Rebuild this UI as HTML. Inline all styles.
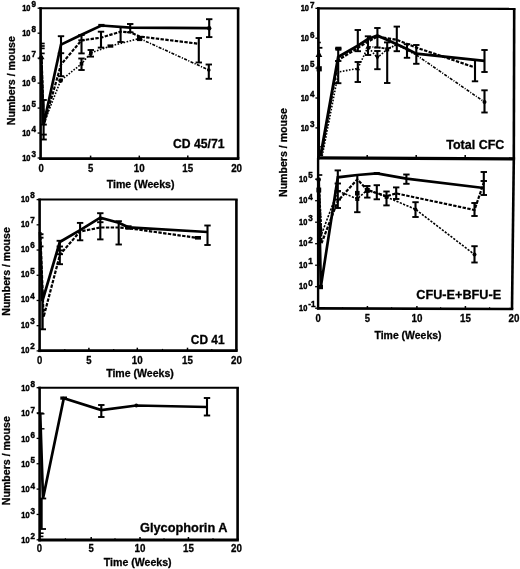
<!DOCTYPE html>
<html lang="en"><head><meta charset="utf-8"><title>Figure</title>
<style>
html,body{margin:0;padding:0;background:#fff;}
body{width:520px;height:569px;overflow:hidden;}
svg{display:block;}
svg text{font-family:"Liberation Sans", Arial, Helvetica, sans-serif;fill:#000;stroke:#000;stroke-width:0.3px;}
</style></head><body>
<svg width="520" height="569" viewBox="0 0 520 569" stroke="#000" stroke-linecap="butt" stroke-linejoin="miter">
<defs><filter id="soft" x="0" y="0" width="520" height="569" filterUnits="userSpaceOnUse"><feGaussianBlur stdDeviation="0.45"/></filter></defs>
<rect x="0" y="0" width="520" height="569" fill="#fff" stroke="none"/>
<g filter="url(#soft)">
<line x1="40.60" y1="7.20" x2="40.60" y2="160.00" stroke-width="2.6" />
<line x1="39.30" y1="158.60" x2="239.40" y2="158.60" stroke-width="2.8" />
<line x1="39.30" y1="8.20" x2="239.40" y2="8.20" stroke-width="2.0" />
<line x1="238.10" y1="8.20" x2="238.10" y2="158.60" stroke-width="2.6" />
<line x1="37.60" y1="8.20" x2="40.60" y2="8.20" stroke-width="1.3" />
<text x="30.50" y="10.70" font-size="8.6" text-anchor="end" font-weight="bold" textLength="8.30" lengthAdjust="spacingAndGlyphs" style="stroke-width:0.45px">10</text>
<text x="31.40" y="7.00" font-size="9.0" text-anchor="start" font-weight="bold" textLength="4.50" lengthAdjust="spacingAndGlyphs" style="stroke-width:0.45px">9</text>
<line x1="37.60" y1="33.17" x2="40.60" y2="33.17" stroke-width="1.3" />
<text x="30.50" y="35.67" font-size="8.6" text-anchor="end" font-weight="bold" textLength="8.30" lengthAdjust="spacingAndGlyphs" style="stroke-width:0.45px">10</text>
<text x="31.40" y="31.97" font-size="9.0" text-anchor="start" font-weight="bold" textLength="4.50" lengthAdjust="spacingAndGlyphs" style="stroke-width:0.45px">8</text>
<line x1="37.60" y1="58.13" x2="40.60" y2="58.13" stroke-width="1.3" />
<text x="30.50" y="60.63" font-size="8.6" text-anchor="end" font-weight="bold" textLength="8.30" lengthAdjust="spacingAndGlyphs" style="stroke-width:0.45px">10</text>
<text x="31.40" y="56.93" font-size="9.0" text-anchor="start" font-weight="bold" textLength="4.50" lengthAdjust="spacingAndGlyphs" style="stroke-width:0.45px">7</text>
<line x1="37.60" y1="83.10" x2="40.60" y2="83.10" stroke-width="1.3" />
<text x="30.50" y="85.60" font-size="8.6" text-anchor="end" font-weight="bold" textLength="8.30" lengthAdjust="spacingAndGlyphs" style="stroke-width:0.45px">10</text>
<text x="31.40" y="81.90" font-size="9.0" text-anchor="start" font-weight="bold" textLength="4.50" lengthAdjust="spacingAndGlyphs" style="stroke-width:0.45px">6</text>
<line x1="37.60" y1="108.07" x2="40.60" y2="108.07" stroke-width="1.3" />
<text x="30.50" y="110.57" font-size="8.6" text-anchor="end" font-weight="bold" textLength="8.30" lengthAdjust="spacingAndGlyphs" style="stroke-width:0.45px">10</text>
<text x="31.40" y="106.87" font-size="9.0" text-anchor="start" font-weight="bold" textLength="4.50" lengthAdjust="spacingAndGlyphs" style="stroke-width:0.45px">5</text>
<line x1="37.60" y1="133.03" x2="40.60" y2="133.03" stroke-width="1.3" />
<text x="30.50" y="135.53" font-size="8.6" text-anchor="end" font-weight="bold" textLength="8.30" lengthAdjust="spacingAndGlyphs" style="stroke-width:0.45px">10</text>
<text x="31.40" y="131.83" font-size="9.0" text-anchor="start" font-weight="bold" textLength="4.50" lengthAdjust="spacingAndGlyphs" style="stroke-width:0.45px">4</text>
<line x1="37.60" y1="158.00" x2="40.60" y2="158.00" stroke-width="1.3" />
<text x="30.50" y="160.50" font-size="8.6" text-anchor="end" font-weight="bold" textLength="8.30" lengthAdjust="spacingAndGlyphs" style="stroke-width:0.45px">10</text>
<text x="31.40" y="156.80" font-size="9.0" text-anchor="start" font-weight="bold" textLength="4.50" lengthAdjust="spacingAndGlyphs" style="stroke-width:0.45px">3</text>
<text x="41.20" y="172.10" font-size="11.0" text-anchor="middle" font-weight="bold" textLength="5.30" lengthAdjust="spacingAndGlyphs">0</text>
<line x1="90.60" y1="155.60" x2="90.60" y2="158.60" stroke-width="1.5" />
<text x="90.60" y="172.10" font-size="11.0" text-anchor="middle" font-weight="bold" textLength="5.30" lengthAdjust="spacingAndGlyphs">5</text>
<line x1="139.30" y1="155.60" x2="139.30" y2="158.60" stroke-width="1.5" />
<text x="139.30" y="172.10" font-size="11.0" text-anchor="middle" font-weight="bold" textLength="10.90" lengthAdjust="spacingAndGlyphs">10</text>
<line x1="187.80" y1="155.60" x2="187.80" y2="158.60" stroke-width="1.5" />
<text x="187.80" y="172.10" font-size="11.0" text-anchor="middle" font-weight="bold" textLength="10.90" lengthAdjust="spacingAndGlyphs">15</text>
<text x="236.60" y="172.10" font-size="11.0" text-anchor="middle" font-weight="bold" textLength="10.90" lengthAdjust="spacingAndGlyphs">20</text>
<text x="140.60" y="187.50" font-size="11" text-anchor="middle" font-weight="bold" textLength="67.80" lengthAdjust="spacingAndGlyphs">Time (Weeks)</text>
<text x="15.00" y="125.20" font-size="11" text-anchor="start" font-weight="bold" transform="rotate(-90 15.00 125.20)" textLength="89.00" lengthAdjust="spacingAndGlyphs">Numbers / mouse</text>
<text x="173.00" y="148.20" font-size="12" text-anchor="start" font-weight="bold" textLength="51.50" lengthAdjust="spacingAndGlyphs">CD 45/71</text>
<line x1="40.60" y1="43.50" x2="44.70" y2="43.50" stroke-width="1.7" />
<line x1="40.60" y1="46.00" x2="44.70" y2="46.00" stroke-width="1.7" />
<line x1="40.60" y1="48.40" x2="44.70" y2="48.40" stroke-width="1.7" />
<line x1="40.60" y1="53.40" x2="44.70" y2="53.40" stroke-width="1.7" />
<polygon points="38.10,59.16 44.50,59.16 41.30,53.40" fill="#000" stroke="none"/>
<line x1="43.60" y1="100.00" x2="43.60" y2="139.50" stroke-width="2.1" />
<line x1="40.40" y1="100.00" x2="46.80" y2="100.00" stroke-width="1.9" />
<line x1="40.40" y1="124.60" x2="46.80" y2="124.60" stroke-width="1.9" />
<line x1="40.40" y1="134.60" x2="46.80" y2="134.60" stroke-width="1.9" />
<line x1="40.40" y1="139.50" x2="46.80" y2="139.50" stroke-width="1.9" />
<polyline points="41.00,56.00 43.50,125.00 61.00,44.60 81.50,34.80 101.30,25.50 130.20,27.70 209.20,28.20" fill="none" stroke-width="2.7"  />
<polyline points="41.50,56.00 43.80,125.00 61.00,64.60 81.50,40.30 101.00,37.70 120.60,31.70 130.20,32.30 139.60,36.50 198.80,43.80" fill="none" stroke-width="2.2" stroke-dasharray="3.4 1.4" />
<polyline points="42.00,56.00 43.20,125.00 60.60,80.60 81.50,63.80 90.80,53.00 110.40,46.00 139.60,38.50" fill="none" stroke-width="1.6" stroke-dasharray="1.6 1.5" />
<polyline points="139.60,38.50 208.80,70.00" fill="none" stroke-width="1.6" stroke-dasharray="3 1.4 1.2 1.4" />
<line x1="61.00" y1="36.20" x2="61.00" y2="76.20" stroke-width="2.1" />
<line x1="57.80" y1="36.20" x2="64.20" y2="36.20" stroke-width="1.9" />
<line x1="57.80" y1="53.20" x2="64.20" y2="53.20" stroke-width="1.9" />
<line x1="57.80" y1="76.20" x2="64.20" y2="76.20" stroke-width="1.9" />
<circle cx="60.60" cy="80.60" r="2.4" fill="#000" stroke="none"/>
<line x1="81.50" y1="35.00" x2="81.50" y2="53.40" stroke-width="2.1" />
<line x1="78.30" y1="35.00" x2="84.70" y2="35.00" stroke-width="1.9" />
<line x1="78.30" y1="40.30" x2="84.70" y2="40.30" stroke-width="1.9" />
<line x1="78.30" y1="53.40" x2="84.70" y2="53.40" stroke-width="1.9" />
<line x1="81.50" y1="58.50" x2="81.50" y2="70.00" stroke-width="2.1" />
<line x1="78.30" y1="58.50" x2="84.70" y2="58.50" stroke-width="1.9" />
<line x1="78.30" y1="70.00" x2="84.70" y2="70.00" stroke-width="1.9" />
<rect x="79.70" y="62.00" width="3.60" height="3.60" fill="#000" stroke="none"/>
<line x1="90.80" y1="50.00" x2="90.80" y2="56.60" stroke-width="2.1" />
<line x1="87.60" y1="50.00" x2="94.00" y2="50.00" stroke-width="1.9" />
<line x1="87.60" y1="56.60" x2="94.00" y2="56.60" stroke-width="1.9" />
<rect x="89.00" y="51.20" width="3.60" height="3.60" fill="#000" stroke="none"/>
<line x1="101.00" y1="31.70" x2="101.00" y2="47.60" stroke-width="2.1" />
<line x1="97.80" y1="31.70" x2="104.20" y2="31.70" stroke-width="1.9" />
<line x1="97.80" y1="47.60" x2="104.20" y2="47.60" stroke-width="1.9" />
<rect x="98.3" y="23.9" width="6.2" height="3.2" fill="#000" stroke="none"/>
<rect x="107.5" y="44.4" width="5.8" height="3.3" fill="#000" stroke="none"/>
<line x1="120.60" y1="27.00" x2="120.60" y2="42.00" stroke-width="2.1" />
<line x1="117.40" y1="27.00" x2="123.80" y2="27.00" stroke-width="1.9" />
<line x1="117.40" y1="42.00" x2="123.80" y2="42.00" stroke-width="1.9" />
<line x1="130.20" y1="24.00" x2="130.20" y2="32.30" stroke-width="2.1" />
<line x1="127.00" y1="24.00" x2="133.40" y2="24.00" stroke-width="1.9" />
<line x1="127.00" y1="32.30" x2="133.40" y2="32.30" stroke-width="1.9" />
<rect x="137.00" y="35.90" width="5.20" height="5.20" fill="#000" stroke="none"/>
<line x1="209.20" y1="19.20" x2="209.20" y2="37.10" stroke-width="2.1" />
<line x1="206.00" y1="19.20" x2="212.40" y2="19.20" stroke-width="1.9" />
<line x1="206.00" y1="37.10" x2="212.40" y2="37.10" stroke-width="1.9" />
<circle cx="209.20" cy="28.30" r="2.2" fill="#000" stroke="none"/>
<line x1="198.80" y1="38.00" x2="198.80" y2="62.50" stroke-width="2.1" />
<line x1="195.60" y1="38.00" x2="202.00" y2="38.00" stroke-width="1.9" />
<line x1="195.60" y1="62.50" x2="202.00" y2="62.50" stroke-width="1.9" />
<line x1="208.80" y1="64.50" x2="208.80" y2="78.80" stroke-width="2.1" />
<line x1="205.60" y1="64.50" x2="212.00" y2="64.50" stroke-width="1.9" />
<line x1="205.60" y1="78.80" x2="212.00" y2="78.80" stroke-width="1.9" />
<circle cx="208.80" cy="70.00" r="1.8" fill="#000" stroke="none"/>
<line x1="39.60" y1="198.60" x2="39.60" y2="352.10" stroke-width="2.6" />
<line x1="38.30" y1="350.70" x2="237.70" y2="350.70" stroke-width="2.8" />
<line x1="38.30" y1="199.60" x2="237.70" y2="199.60" stroke-width="2.0" />
<line x1="236.40" y1="199.60" x2="236.40" y2="350.70" stroke-width="2.6" />
<line x1="36.60" y1="199.60" x2="39.60" y2="199.60" stroke-width="1.3" />
<text x="29.30" y="201.60" font-size="8.6" text-anchor="end" font-weight="bold" textLength="8.30" lengthAdjust="spacingAndGlyphs" style="stroke-width:0.45px">10</text>
<text x="30.20" y="197.90" font-size="9.0" text-anchor="start" font-weight="bold" textLength="4.50" lengthAdjust="spacingAndGlyphs" style="stroke-width:0.45px">8</text>
<line x1="36.60" y1="224.82" x2="39.60" y2="224.82" stroke-width="1.3" />
<text x="29.30" y="226.82" font-size="8.6" text-anchor="end" font-weight="bold" textLength="8.30" lengthAdjust="spacingAndGlyphs" style="stroke-width:0.45px">10</text>
<text x="30.20" y="223.12" font-size="9.0" text-anchor="start" font-weight="bold" textLength="4.50" lengthAdjust="spacingAndGlyphs" style="stroke-width:0.45px">7</text>
<line x1="36.60" y1="250.03" x2="39.60" y2="250.03" stroke-width="1.3" />
<text x="29.30" y="252.03" font-size="8.6" text-anchor="end" font-weight="bold" textLength="8.30" lengthAdjust="spacingAndGlyphs" style="stroke-width:0.45px">10</text>
<text x="30.20" y="248.33" font-size="9.0" text-anchor="start" font-weight="bold" textLength="4.50" lengthAdjust="spacingAndGlyphs" style="stroke-width:0.45px">6</text>
<line x1="36.60" y1="275.25" x2="39.60" y2="275.25" stroke-width="1.3" />
<text x="29.30" y="277.25" font-size="8.6" text-anchor="end" font-weight="bold" textLength="8.30" lengthAdjust="spacingAndGlyphs" style="stroke-width:0.45px">10</text>
<text x="30.20" y="273.55" font-size="9.0" text-anchor="start" font-weight="bold" textLength="4.50" lengthAdjust="spacingAndGlyphs" style="stroke-width:0.45px">5</text>
<line x1="36.60" y1="300.47" x2="39.60" y2="300.47" stroke-width="1.3" />
<text x="29.30" y="302.47" font-size="8.6" text-anchor="end" font-weight="bold" textLength="8.30" lengthAdjust="spacingAndGlyphs" style="stroke-width:0.45px">10</text>
<text x="30.20" y="298.77" font-size="9.0" text-anchor="start" font-weight="bold" textLength="4.50" lengthAdjust="spacingAndGlyphs" style="stroke-width:0.45px">4</text>
<line x1="36.60" y1="325.68" x2="39.60" y2="325.68" stroke-width="1.3" />
<text x="29.30" y="327.68" font-size="8.6" text-anchor="end" font-weight="bold" textLength="8.30" lengthAdjust="spacingAndGlyphs" style="stroke-width:0.45px">10</text>
<text x="30.20" y="323.98" font-size="9.0" text-anchor="start" font-weight="bold" textLength="4.50" lengthAdjust="spacingAndGlyphs" style="stroke-width:0.45px">3</text>
<line x1="36.60" y1="350.90" x2="39.60" y2="350.90" stroke-width="1.3" />
<text x="29.30" y="352.90" font-size="8.6" text-anchor="end" font-weight="bold" textLength="8.30" lengthAdjust="spacingAndGlyphs" style="stroke-width:0.45px">10</text>
<text x="30.20" y="349.20" font-size="9.0" text-anchor="start" font-weight="bold" textLength="4.50" lengthAdjust="spacingAndGlyphs" style="stroke-width:0.45px">2</text>
<text x="39.60" y="364.40" font-size="11.0" text-anchor="middle" font-weight="bold" textLength="5.30" lengthAdjust="spacingAndGlyphs">0</text>
<line x1="88.90" y1="347.70" x2="88.90" y2="350.70" stroke-width="1.5" />
<text x="88.90" y="364.40" font-size="11.0" text-anchor="middle" font-weight="bold" textLength="5.30" lengthAdjust="spacingAndGlyphs">5</text>
<line x1="137.30" y1="347.70" x2="137.30" y2="350.70" stroke-width="1.5" />
<text x="137.30" y="364.40" font-size="11.0" text-anchor="middle" font-weight="bold" textLength="10.90" lengthAdjust="spacingAndGlyphs">10</text>
<line x1="187.50" y1="347.70" x2="187.50" y2="350.70" stroke-width="1.5" />
<text x="187.50" y="364.40" font-size="11.0" text-anchor="middle" font-weight="bold" textLength="10.90" lengthAdjust="spacingAndGlyphs">15</text>
<text x="236.40" y="364.40" font-size="11.0" text-anchor="middle" font-weight="bold" textLength="10.90" lengthAdjust="spacingAndGlyphs">20</text>
<line x1="64.80" y1="348.90" x2="64.80" y2="350.70" stroke-width="1.2" />
<line x1="113.70" y1="348.90" x2="113.70" y2="350.70" stroke-width="1.2" />
<line x1="162.50" y1="348.90" x2="162.50" y2="350.70" stroke-width="1.2" />
<line x1="211.80" y1="348.90" x2="211.80" y2="350.70" stroke-width="1.2" />
<text x="140.00" y="376.90" font-size="10.8" text-anchor="middle" font-weight="bold" textLength="67.60" lengthAdjust="spacingAndGlyphs">Time (Weeks)</text>
<text x="10.20" y="315.70" font-size="11" text-anchor="start" font-weight="bold" transform="rotate(-90 10.20 315.70)" textLength="88.50" lengthAdjust="spacingAndGlyphs">Numbers / mouse</text>
<text x="190.80" y="343.80" font-size="12" text-anchor="start" font-weight="bold" textLength="33.80" lengthAdjust="spacingAndGlyphs">CD 41</text>
<line x1="39.60" y1="234.20" x2="43.50" y2="234.20" stroke-width="1.9" />
<line x1="39.60" y1="237.70" x2="43.50" y2="237.70" stroke-width="1.9" />
<line x1="39.60" y1="246.40" x2="43.50" y2="246.40" stroke-width="1.9" />
<line x1="42.50" y1="300.00" x2="42.50" y2="329.30" stroke-width="2.4" />
<line x1="39.60" y1="329.30" x2="46.00" y2="329.30" stroke-width="1.9" />
<polyline points="39.90,232.00 42.40,301.00 59.80,242.00 80.10,230.20 100.30,217.60 118.70,222.70 128.50,227.30 207.50,232.00" fill="none" stroke-width="2.7"  />
<polyline points="40.30,232.00 43.60,317.00 60.00,254.50 80.10,231.50 100.30,227.50 118.70,227.50 128.50,228.20 198.00,238.00" fill="none" stroke-width="2.2" stroke-dasharray="3.4 1.4" />
<line x1="59.80" y1="240.80" x2="59.80" y2="264.20" stroke-width="2.1" />
<line x1="56.60" y1="240.80" x2="63.00" y2="240.80" stroke-width="1.9" />
<line x1="56.60" y1="246.50" x2="63.00" y2="246.50" stroke-width="1.9" />
<line x1="56.60" y1="250.40" x2="63.00" y2="250.40" stroke-width="1.9" />
<line x1="56.60" y1="254.20" x2="63.00" y2="254.20" stroke-width="1.9" />
<line x1="56.60" y1="264.20" x2="63.00" y2="264.20" stroke-width="1.9" />
<line x1="80.10" y1="222.90" x2="80.10" y2="240.30" stroke-width="2.1" />
<line x1="76.90" y1="222.90" x2="83.30" y2="222.90" stroke-width="1.9" />
<line x1="76.90" y1="240.30" x2="83.30" y2="240.30" stroke-width="1.9" />
<line x1="100.30" y1="213.20" x2="100.30" y2="239.40" stroke-width="2.1" />
<line x1="97.10" y1="213.20" x2="103.50" y2="213.20" stroke-width="1.9" />
<line x1="97.10" y1="222.20" x2="103.50" y2="222.20" stroke-width="1.9" />
<line x1="97.10" y1="239.40" x2="103.50" y2="239.40" stroke-width="1.9" />
<polygon points="97.70,220.08 102.90,220.08 100.30,215.40" fill="#000" stroke="none"/>
<line x1="118.70" y1="221.20" x2="118.70" y2="244.50" stroke-width="2.1" />
<line x1="115.50" y1="221.20" x2="121.90" y2="221.20" stroke-width="1.9" />
<line x1="115.50" y1="244.50" x2="121.90" y2="244.50" stroke-width="1.9" />
<rect x="125.4" y="225.3" width="6.2" height="4.4" fill="#000" stroke="none"/>
<line x1="207.50" y1="225.50" x2="207.50" y2="245.00" stroke-width="2.1" />
<line x1="204.30" y1="225.50" x2="210.70" y2="225.50" stroke-width="1.9" />
<line x1="204.30" y1="245.00" x2="210.70" y2="245.00" stroke-width="1.9" />
<rect x="195" y="236" width="6" height="3.6" fill="#000" stroke="none"/>
<line x1="39.60" y1="386.70" x2="39.60" y2="541.40" stroke-width="2.6" />
<line x1="38.30" y1="540.00" x2="238.90" y2="540.00" stroke-width="2.8" />
<line x1="38.30" y1="387.70" x2="238.90" y2="387.70" stroke-width="2.0" />
<line x1="237.60" y1="387.70" x2="237.60" y2="540.00" stroke-width="2.6" />
<line x1="36.60" y1="387.70" x2="39.60" y2="387.70" stroke-width="1.3" />
<text x="29.60" y="390.90" font-size="8.6" text-anchor="end" font-weight="bold" textLength="8.30" lengthAdjust="spacingAndGlyphs" style="stroke-width:0.45px">10</text>
<text x="30.50" y="387.20" font-size="9.0" text-anchor="start" font-weight="bold" textLength="4.50" lengthAdjust="spacingAndGlyphs" style="stroke-width:0.45px">8</text>
<line x1="36.60" y1="413.05" x2="39.60" y2="413.05" stroke-width="1.3" />
<text x="29.60" y="416.25" font-size="8.6" text-anchor="end" font-weight="bold" textLength="8.30" lengthAdjust="spacingAndGlyphs" style="stroke-width:0.45px">10</text>
<text x="30.50" y="412.55" font-size="9.0" text-anchor="start" font-weight="bold" textLength="4.50" lengthAdjust="spacingAndGlyphs" style="stroke-width:0.45px">7</text>
<line x1="36.60" y1="438.40" x2="39.60" y2="438.40" stroke-width="1.3" />
<text x="29.60" y="441.60" font-size="8.6" text-anchor="end" font-weight="bold" textLength="8.30" lengthAdjust="spacingAndGlyphs" style="stroke-width:0.45px">10</text>
<text x="30.50" y="437.90" font-size="9.0" text-anchor="start" font-weight="bold" textLength="4.50" lengthAdjust="spacingAndGlyphs" style="stroke-width:0.45px">6</text>
<line x1="36.60" y1="463.75" x2="39.60" y2="463.75" stroke-width="1.3" />
<text x="29.60" y="466.95" font-size="8.6" text-anchor="end" font-weight="bold" textLength="8.30" lengthAdjust="spacingAndGlyphs" style="stroke-width:0.45px">10</text>
<text x="30.50" y="463.25" font-size="9.0" text-anchor="start" font-weight="bold" textLength="4.50" lengthAdjust="spacingAndGlyphs" style="stroke-width:0.45px">5</text>
<line x1="36.60" y1="489.10" x2="39.60" y2="489.10" stroke-width="1.3" />
<text x="29.60" y="492.30" font-size="8.6" text-anchor="end" font-weight="bold" textLength="8.30" lengthAdjust="spacingAndGlyphs" style="stroke-width:0.45px">10</text>
<text x="30.50" y="488.60" font-size="9.0" text-anchor="start" font-weight="bold" textLength="4.50" lengthAdjust="spacingAndGlyphs" style="stroke-width:0.45px">4</text>
<line x1="36.60" y1="514.45" x2="39.60" y2="514.45" stroke-width="1.3" />
<text x="29.60" y="517.65" font-size="8.6" text-anchor="end" font-weight="bold" textLength="8.30" lengthAdjust="spacingAndGlyphs" style="stroke-width:0.45px">10</text>
<text x="30.50" y="513.95" font-size="9.0" text-anchor="start" font-weight="bold" textLength="4.50" lengthAdjust="spacingAndGlyphs" style="stroke-width:0.45px">3</text>
<line x1="36.60" y1="539.80" x2="39.60" y2="539.80" stroke-width="1.3" />
<text x="29.60" y="543.00" font-size="8.6" text-anchor="end" font-weight="bold" textLength="8.30" lengthAdjust="spacingAndGlyphs" style="stroke-width:0.45px">10</text>
<text x="30.50" y="539.30" font-size="9.0" text-anchor="start" font-weight="bold" textLength="4.50" lengthAdjust="spacingAndGlyphs" style="stroke-width:0.45px">2</text>
<text x="39.30" y="552.10" font-size="11.0" text-anchor="middle" font-weight="bold" textLength="5.30" lengthAdjust="spacingAndGlyphs">0</text>
<line x1="91.20" y1="537.00" x2="91.20" y2="540.00" stroke-width="1.5" />
<text x="91.20" y="552.10" font-size="11.0" text-anchor="middle" font-weight="bold" textLength="5.30" lengthAdjust="spacingAndGlyphs">5</text>
<line x1="140.00" y1="537.00" x2="140.00" y2="540.00" stroke-width="1.5" />
<text x="140.00" y="552.10" font-size="11.0" text-anchor="middle" font-weight="bold" textLength="10.90" lengthAdjust="spacingAndGlyphs">10</text>
<line x1="188.40" y1="537.00" x2="188.40" y2="540.00" stroke-width="1.5" />
<text x="188.40" y="552.10" font-size="11.0" text-anchor="middle" font-weight="bold" textLength="10.90" lengthAdjust="spacingAndGlyphs">15</text>
<text x="236.40" y="552.10" font-size="11.0" text-anchor="middle" font-weight="bold" textLength="10.90" lengthAdjust="spacingAndGlyphs">20</text>
<line x1="65.40" y1="538.20" x2="65.40" y2="540.00" stroke-width="1.2" />
<line x1="115.00" y1="538.20" x2="115.00" y2="540.00" stroke-width="1.2" />
<line x1="164.00" y1="538.20" x2="164.00" y2="540.00" stroke-width="1.2" />
<line x1="213.00" y1="538.20" x2="213.00" y2="540.00" stroke-width="1.2" />
<text x="137.70" y="565.70" font-size="11" text-anchor="middle" font-weight="bold" textLength="67.80" lengthAdjust="spacingAndGlyphs">Time (Weeks)</text>
<text x="10.20" y="505.20" font-size="11" text-anchor="start" font-weight="bold" transform="rotate(-90 10.20 505.20)" textLength="89.00" lengthAdjust="spacingAndGlyphs">Numbers / mouse</text>
<text x="140.00" y="531.60" font-size="12.6" text-anchor="start" font-weight="bold" textLength="87.50" lengthAdjust="spacingAndGlyphs">Glycophorin A</text>
<line x1="39.60" y1="413.80" x2="44.50" y2="413.80" stroke-width="1.4" />
<line x1="39.60" y1="428.80" x2="44.50" y2="428.80" stroke-width="1.4" />
<line x1="39.60" y1="529.00" x2="46.00" y2="529.00" stroke-width="1.8" />
<line x1="39.60" y1="533.20" x2="43.60" y2="533.20" stroke-width="1.6" />
<line x1="39.60" y1="498.50" x2="46.20" y2="498.50" stroke-width="1.8" />
<line x1="41.30" y1="498.50" x2="41.30" y2="529.00" stroke-width="2.8" />
<line x1="39.60" y1="536.40" x2="43.40" y2="536.40" stroke-width="1.6" />
<line x1="37.00" y1="413.30" x2="43.60" y2="413.30" stroke-width="1.8" />
<polyline points="40.20,413.00 43.00,498.50 63.80,398.30 101.30,410.00 136.30,405.50 207.00,407.00" fill="none" stroke-width="2.7"  />
<rect x="60.3" y="396.5" width="6.7" height="3.2" fill="#000" stroke="none"/>
<line x1="101.30" y1="405.00" x2="101.30" y2="417.00" stroke-width="2.1" />
<line x1="98.10" y1="405.00" x2="104.50" y2="405.00" stroke-width="1.9" />
<line x1="98.10" y1="417.00" x2="104.50" y2="417.00" stroke-width="1.9" />
<circle cx="136.30" cy="405.50" r="1.9" fill="#000" stroke="none"/>
<line x1="207.00" y1="398.00" x2="207.00" y2="415.50" stroke-width="2.1" />
<line x1="203.80" y1="398.00" x2="210.20" y2="398.00" stroke-width="1.9" />
<line x1="203.80" y1="415.50" x2="210.20" y2="415.50" stroke-width="1.9" />
<line x1="318.40" y1="7.20" x2="318.40" y2="159.50" stroke-width="2.7" />
<line x1="317.05" y1="157.80" x2="515.10" y2="158.80" stroke-width="3.3" />
<line x1="317.05" y1="8.30" x2="515.40" y2="8.80" stroke-width="2.2" />
<line x1="514.20" y1="8.30" x2="513.80" y2="158.80" stroke-width="2.6" />
<line x1="315.40" y1="8.30" x2="318.40" y2="8.30" stroke-width="1.3" />
<text x="309.00" y="11.30" font-size="8.6" text-anchor="end" font-weight="bold" textLength="8.30" lengthAdjust="spacingAndGlyphs" style="stroke-width:0.45px">10</text>
<text x="309.90" y="7.60" font-size="9.0" text-anchor="start" font-weight="bold" textLength="4.50" lengthAdjust="spacingAndGlyphs" style="stroke-width:0.45px">7</text>
<line x1="315.40" y1="38.20" x2="318.40" y2="38.20" stroke-width="1.3" />
<text x="309.00" y="41.20" font-size="8.6" text-anchor="end" font-weight="bold" textLength="8.30" lengthAdjust="spacingAndGlyphs" style="stroke-width:0.45px">10</text>
<text x="309.90" y="37.50" font-size="9.0" text-anchor="start" font-weight="bold" textLength="4.50" lengthAdjust="spacingAndGlyphs" style="stroke-width:0.45px">6</text>
<line x1="315.40" y1="68.10" x2="318.40" y2="68.10" stroke-width="1.3" />
<text x="309.00" y="71.10" font-size="8.6" text-anchor="end" font-weight="bold" textLength="8.30" lengthAdjust="spacingAndGlyphs" style="stroke-width:0.45px">10</text>
<text x="309.90" y="67.40" font-size="9.0" text-anchor="start" font-weight="bold" textLength="4.50" lengthAdjust="spacingAndGlyphs" style="stroke-width:0.45px">5</text>
<line x1="315.40" y1="98.00" x2="318.40" y2="98.00" stroke-width="1.3" />
<text x="309.00" y="101.00" font-size="8.6" text-anchor="end" font-weight="bold" textLength="8.30" lengthAdjust="spacingAndGlyphs" style="stroke-width:0.45px">10</text>
<text x="309.90" y="97.30" font-size="9.0" text-anchor="start" font-weight="bold" textLength="4.50" lengthAdjust="spacingAndGlyphs" style="stroke-width:0.45px">4</text>
<line x1="315.40" y1="127.90" x2="318.40" y2="127.90" stroke-width="1.3" />
<text x="309.00" y="130.90" font-size="8.6" text-anchor="end" font-weight="bold" textLength="8.30" lengthAdjust="spacingAndGlyphs" style="stroke-width:0.45px">10</text>
<text x="309.90" y="127.20" font-size="9.0" text-anchor="start" font-weight="bold" textLength="4.50" lengthAdjust="spacingAndGlyphs" style="stroke-width:0.45px">3</text>
<line x1="367.20" y1="155.10" x2="367.20" y2="158.30" stroke-width="1.5" />
<line x1="416.20" y1="155.10" x2="416.20" y2="158.30" stroke-width="1.5" />
<line x1="465.20" y1="155.10" x2="465.20" y2="158.30" stroke-width="1.5" />
<text x="286.80" y="197.00" font-size="11" text-anchor="start" font-weight="bold" transform="rotate(-90 286.80 197.00)" textLength="88.80" lengthAdjust="spacingAndGlyphs">Numbers / mouse</text>
<text x="446.30" y="148.60" font-size="12.2" text-anchor="start" font-weight="bold" textLength="58.00" lengthAdjust="spacingAndGlyphs">Total CFC</text>
<line x1="318.40" y1="47.80" x2="322.40" y2="47.80" stroke-width="1.8" />
<line x1="318.40" y1="42.50" x2="320.80" y2="42.50" stroke-width="1.6" />
<polygon points="315.50,56.92 322.30,56.92 318.90,50.80" fill="#000" stroke="none"/>
<rect x="316.60" y="66.20" width="5.20" height="5.20" fill="#000" stroke="none"/>
<line x1="318.90" y1="50.00" x2="318.90" y2="157.00" stroke-width="2.3" />
<line x1="320.20" y1="146.70" x2="324.60" y2="146.70" stroke-width="1.4" />
<polyline points="368.00,46.80 377.40,47.20 387.20,48.80 396.80,44.60" fill="none" stroke-width="1.6" stroke-dasharray="3 1.4 1 1.4" />
<polyline points="320.50,156.00 338.20,57.00 357.80,45.60 368.00,39.00 377.40,35.50 396.80,44.20 407.00,49.00 416.30,53.70 484.50,60.80" fill="none" stroke-width="2.8"  />
<polyline points="321.20,156.00 338.40,59.80 357.80,48.00 368.00,41.60 377.40,36.60 396.80,39.80 416.30,47.60 475.00,67.50" fill="none" stroke-width="2.2" stroke-dasharray="3.4 1.4" />
<polyline points="322.20,156.00 338.60,72.00 357.80,68.40 368.00,47.00 377.40,57.70 387.00,49.60 396.80,44.50 407.00,50.00 416.30,55.00" fill="none" stroke-width="1.6" stroke-dasharray="1.6 1.5" />
<polyline points="416.30,55.00 484.50,102.00" fill="none" stroke-width="1.6" stroke-dasharray="3 1.4 1 1.4" />
<line x1="338.20" y1="48.60" x2="338.20" y2="83.20" stroke-width="2.1" />
<line x1="335.00" y1="48.60" x2="341.40" y2="48.60" stroke-width="1.9" />
<line x1="335.00" y1="61.00" x2="341.40" y2="61.00" stroke-width="1.9" />
<line x1="335.00" y1="83.20" x2="341.40" y2="83.20" stroke-width="1.9" />
<rect x="335.4" y="46.7" width="6.0" height="4.0" fill="#000" stroke="none"/>
<line x1="357.80" y1="30.00" x2="357.80" y2="51.20" stroke-width="2.1" />
<line x1="354.60" y1="30.00" x2="361.00" y2="30.00" stroke-width="1.9" />
<line x1="354.60" y1="51.20" x2="361.00" y2="51.20" stroke-width="1.9" />
<line x1="357.80" y1="62.00" x2="357.80" y2="82.00" stroke-width="2.1" />
<line x1="354.60" y1="62.00" x2="361.00" y2="62.00" stroke-width="1.9" />
<line x1="354.60" y1="82.00" x2="361.00" y2="82.00" stroke-width="1.9" />
<polygon points="355.40,70.32 360.20,70.32 357.80,66.00" fill="#000" stroke="none"/>
<line x1="368.00" y1="36.30" x2="368.00" y2="55.00" stroke-width="2.1" />
<line x1="364.80" y1="36.30" x2="371.20" y2="36.30" stroke-width="1.9" />
<line x1="364.80" y1="55.00" x2="371.20" y2="55.00" stroke-width="1.9" />
<polygon points="365.40,48.68 370.60,48.68 368.00,44.00" fill="#000" stroke="none"/>
<line x1="377.40" y1="28.00" x2="377.40" y2="47.60" stroke-width="2.1" />
<line x1="374.20" y1="28.00" x2="380.60" y2="28.00" stroke-width="1.9" />
<line x1="374.20" y1="47.60" x2="380.60" y2="47.60" stroke-width="1.9" />
<line x1="377.40" y1="51.00" x2="377.40" y2="69.20" stroke-width="2.1" />
<line x1="374.20" y1="51.00" x2="380.60" y2="51.00" stroke-width="1.9" />
<line x1="374.20" y1="69.20" x2="380.60" y2="69.20" stroke-width="1.9" />
<polygon points="374.8,55.6 380,55.6 377.4,60.2" fill="#000" stroke="none"/>
<line x1="387.20" y1="42.40" x2="387.20" y2="83.00" stroke-width="2.1" />
<line x1="384.00" y1="42.40" x2="390.40" y2="42.40" stroke-width="1.9" />
<line x1="384.00" y1="83.00" x2="390.40" y2="83.00" stroke-width="1.9" />
<rect x="385.20" y="47.40" width="4.00" height="4.00" fill="#000" stroke="none"/>
<line x1="396.80" y1="26.60" x2="396.80" y2="51.20" stroke-width="2.1" />
<line x1="393.60" y1="26.60" x2="400.00" y2="26.60" stroke-width="1.9" />
<line x1="393.60" y1="51.20" x2="400.00" y2="51.20" stroke-width="1.9" />
<line x1="407.00" y1="44.20" x2="407.00" y2="57.80" stroke-width="2.1" />
<line x1="403.80" y1="44.20" x2="410.20" y2="44.20" stroke-width="1.9" />
<line x1="403.80" y1="57.80" x2="410.20" y2="57.80" stroke-width="1.9" />
<line x1="416.30" y1="45.00" x2="416.30" y2="63.80" stroke-width="2.1" />
<line x1="413.10" y1="45.00" x2="419.50" y2="45.00" stroke-width="1.9" />
<line x1="413.10" y1="63.80" x2="419.50" y2="63.80" stroke-width="1.9" />
<line x1="475.00" y1="60.00" x2="475.00" y2="81.30" stroke-width="2.1" />
<line x1="471.80" y1="60.00" x2="478.20" y2="60.00" stroke-width="1.9" />
<line x1="471.80" y1="81.30" x2="478.20" y2="81.30" stroke-width="1.9" />
<line x1="484.50" y1="50.00" x2="484.50" y2="72.00" stroke-width="2.1" />
<line x1="481.30" y1="50.00" x2="487.70" y2="50.00" stroke-width="1.9" />
<line x1="481.30" y1="72.00" x2="487.70" y2="72.00" stroke-width="1.9" />
<line x1="484.50" y1="90.30" x2="484.50" y2="112.50" stroke-width="2.1" />
<line x1="481.30" y1="90.30" x2="487.70" y2="90.30" stroke-width="1.9" />
<line x1="481.30" y1="112.50" x2="487.70" y2="112.50" stroke-width="1.9" />
<circle cx="484.50" cy="102.00" r="2.0" fill="#000" stroke="none"/>
<line x1="318.10" y1="157.80" x2="318.10" y2="309.50" stroke-width="2.4" />
<line x1="316.90" y1="308.30" x2="513.30" y2="309.00" stroke-width="2.7" />
<line x1="513.80" y1="158.80" x2="512.00" y2="309.00" stroke-width="2.6" />
<line x1="315.10" y1="179.20" x2="318.10" y2="179.20" stroke-width="1.3" />
<text x="307.30" y="181.80" font-size="8.6" text-anchor="end" font-weight="bold" textLength="8.30" lengthAdjust="spacingAndGlyphs" style="stroke-width:0.45px">10</text>
<text x="308.20" y="178.10" font-size="9.0" text-anchor="start" font-weight="bold" textLength="4.50" lengthAdjust="spacingAndGlyphs" style="stroke-width:0.45px">5</text>
<line x1="315.10" y1="200.70" x2="318.10" y2="200.70" stroke-width="1.3" />
<text x="307.30" y="203.30" font-size="8.6" text-anchor="end" font-weight="bold" textLength="8.30" lengthAdjust="spacingAndGlyphs" style="stroke-width:0.45px">10</text>
<text x="308.20" y="199.60" font-size="9.0" text-anchor="start" font-weight="bold" textLength="4.50" lengthAdjust="spacingAndGlyphs" style="stroke-width:0.45px">4</text>
<line x1="315.10" y1="222.20" x2="318.10" y2="222.20" stroke-width="1.3" />
<text x="307.30" y="224.80" font-size="8.6" text-anchor="end" font-weight="bold" textLength="8.30" lengthAdjust="spacingAndGlyphs" style="stroke-width:0.45px">10</text>
<text x="308.20" y="221.10" font-size="9.0" text-anchor="start" font-weight="bold" textLength="4.50" lengthAdjust="spacingAndGlyphs" style="stroke-width:0.45px">3</text>
<line x1="315.10" y1="243.70" x2="318.10" y2="243.70" stroke-width="1.3" />
<text x="307.30" y="246.30" font-size="8.6" text-anchor="end" font-weight="bold" textLength="8.30" lengthAdjust="spacingAndGlyphs" style="stroke-width:0.45px">10</text>
<text x="308.20" y="242.60" font-size="9.0" text-anchor="start" font-weight="bold" textLength="4.50" lengthAdjust="spacingAndGlyphs" style="stroke-width:0.45px">2</text>
<line x1="315.10" y1="265.20" x2="318.10" y2="265.20" stroke-width="1.3" />
<text x="307.30" y="267.80" font-size="8.6" text-anchor="end" font-weight="bold" textLength="8.30" lengthAdjust="spacingAndGlyphs" style="stroke-width:0.45px">10</text>
<text x="308.20" y="264.10" font-size="9.0" text-anchor="start" font-weight="bold" textLength="4.50" lengthAdjust="spacingAndGlyphs" style="stroke-width:0.45px">1</text>
<line x1="315.10" y1="286.70" x2="318.10" y2="286.70" stroke-width="1.3" />
<text x="307.30" y="289.30" font-size="8.6" text-anchor="end" font-weight="bold" textLength="8.30" lengthAdjust="spacingAndGlyphs" style="stroke-width:0.45px">10</text>
<text x="308.20" y="285.60" font-size="9.0" text-anchor="start" font-weight="bold" textLength="4.50" lengthAdjust="spacingAndGlyphs" style="stroke-width:0.45px">0</text>
<line x1="315.10" y1="308.20" x2="318.10" y2="308.20" stroke-width="1.3" />
<text x="307.30" y="310.80" font-size="8.6" text-anchor="end" font-weight="bold" textLength="8.30" lengthAdjust="spacingAndGlyphs" style="stroke-width:0.45px">10</text>
<text x="308.20" y="307.10" font-size="9.0" text-anchor="start" font-weight="bold" textLength="7.20" lengthAdjust="spacingAndGlyphs" style="stroke-width:0.45px">-1</text>
<text x="318.20" y="322.30" font-size="11.0" text-anchor="middle" font-weight="bold" textLength="5.30" lengthAdjust="spacingAndGlyphs">0</text>
<line x1="367.40" y1="306.00" x2="367.40" y2="309.00" stroke-width="1.5" />
<text x="367.40" y="322.30" font-size="11.0" text-anchor="middle" font-weight="bold" textLength="5.30" lengthAdjust="spacingAndGlyphs">5</text>
<line x1="416.90" y1="306.00" x2="416.90" y2="309.00" stroke-width="1.5" />
<text x="416.90" y="322.30" font-size="11.0" text-anchor="middle" font-weight="bold" textLength="10.90" lengthAdjust="spacingAndGlyphs">10</text>
<line x1="465.40" y1="306.00" x2="465.40" y2="309.00" stroke-width="1.5" />
<text x="465.40" y="322.30" font-size="11.0" text-anchor="middle" font-weight="bold" textLength="10.90" lengthAdjust="spacingAndGlyphs">15</text>
<text x="514.00" y="322.30" font-size="11.0" text-anchor="middle" font-weight="bold" textLength="10.90" lengthAdjust="spacingAndGlyphs">20</text>
<line x1="342.60" y1="307.20" x2="342.60" y2="309.00" stroke-width="1.2" />
<line x1="391.60" y1="307.20" x2="391.60" y2="309.00" stroke-width="1.2" />
<line x1="440.60" y1="307.20" x2="440.60" y2="309.00" stroke-width="1.2" />
<line x1="489.60" y1="307.20" x2="489.60" y2="309.00" stroke-width="1.2" />
<text x="408.00" y="338.60" font-size="11" text-anchor="middle" font-weight="bold" textLength="67.00" lengthAdjust="spacingAndGlyphs">Time (Weeks)</text>
<text x="416.30" y="298.70" font-size="12.8" text-anchor="start" font-weight="bold" textLength="84.80" lengthAdjust="spacingAndGlyphs">CFU-E+BFU-E</text>
<circle cx="318.60" cy="179.60" r="2.4" fill="#000" stroke="none"/>
<line x1="318.10" y1="175.00" x2="322.30" y2="175.00" stroke-width="1.7" />
<rect x="316.40" y="187.60" width="4.80" height="4.80" fill="#000" stroke="none"/>
<rect x="318.60" y="284.80" width="4.40" height="4.40" fill="#000" stroke="none"/>
<polyline points="318.70,180.00 320.80,287.00 337.80,177.30 357.30,175.00 376.80,173.40 406.40,178.60 483.80,188.00" fill="none" stroke-width="2.7"  />
<polyline points="319.00,190.00 321.60,243.00 337.80,201.00 357.30,179.30 367.30,190.00 376.80,193.00 386.50,196.20 396.20,193.40 474.50,210.00 483.80,182.50" fill="none" stroke-width="2.2" stroke-dasharray="3.4 1.4" />
<polyline points="319.00,180.00 321.60,234.00 337.80,191.00 357.30,198.80 367.30,190.00 386.50,197.00 415.50,209.30 474.50,254.50" fill="none" stroke-width="1.6" stroke-dasharray="2.2 1.4" />
<line x1="337.80" y1="170.40" x2="337.80" y2="208.00" stroke-width="2.1" />
<line x1="334.60" y1="170.40" x2="341.00" y2="170.40" stroke-width="1.9" />
<line x1="334.60" y1="183.50" x2="341.00" y2="183.50" stroke-width="1.9" />
<line x1="334.60" y1="191.00" x2="341.00" y2="191.00" stroke-width="1.9" />
<line x1="334.60" y1="199.60" x2="341.00" y2="199.60" stroke-width="1.9" />
<line x1="334.60" y1="208.00" x2="341.00" y2="208.00" stroke-width="1.9" />
<line x1="357.30" y1="175.80" x2="357.30" y2="212.20" stroke-width="2.1" />
<line x1="354.10" y1="212.20" x2="360.50" y2="212.20" stroke-width="1.9" />
<rect x="355.00" y="190.90" width="4.60" height="4.60" fill="#000" stroke="none"/>
<rect x="355.30" y="197.00" width="4.00" height="4.00" fill="#000" stroke="none"/>
<line x1="367.30" y1="186.00" x2="367.30" y2="197.60" stroke-width="2.1" />
<line x1="364.10" y1="186.00" x2="370.50" y2="186.00" stroke-width="1.9" />
<line x1="364.10" y1="197.60" x2="370.50" y2="197.60" stroke-width="1.9" />
<rect x="364.80" y="187.90" width="5.00" height="5.00" fill="#000" stroke="none"/>
<line x1="376.80" y1="185.20" x2="376.80" y2="199.30" stroke-width="2.1" />
<line x1="373.60" y1="185.20" x2="380.00" y2="185.20" stroke-width="1.9" />
<line x1="373.60" y1="199.30" x2="380.00" y2="199.30" stroke-width="1.9" />
<rect x="373.8" y="172" width="6" height="2.8" fill="#000" stroke="none"/>
<line x1="386.50" y1="191.50" x2="386.50" y2="205.40" stroke-width="2.1" />
<line x1="383.30" y1="191.50" x2="389.70" y2="191.50" stroke-width="1.9" />
<line x1="383.30" y1="205.40" x2="389.70" y2="205.40" stroke-width="1.9" />
<rect x="384.60" y="195.10" width="3.80" height="3.80" fill="#000" stroke="none"/>
<line x1="396.20" y1="187.40" x2="396.20" y2="199.00" stroke-width="2.1" />
<line x1="393.00" y1="187.40" x2="399.40" y2="187.40" stroke-width="1.9" />
<line x1="393.00" y1="199.00" x2="399.40" y2="199.00" stroke-width="1.9" />
<line x1="406.40" y1="174.50" x2="406.40" y2="183.80" stroke-width="2.1" />
<line x1="403.20" y1="174.50" x2="409.60" y2="174.50" stroke-width="1.9" />
<line x1="403.20" y1="183.80" x2="409.60" y2="183.80" stroke-width="1.9" />
<line x1="415.50" y1="202.20" x2="415.50" y2="217.00" stroke-width="2.1" />
<line x1="412.30" y1="202.20" x2="418.70" y2="202.20" stroke-width="1.9" />
<line x1="412.30" y1="217.00" x2="418.70" y2="217.00" stroke-width="1.9" />
<circle cx="415.50" cy="209.30" r="1.9" fill="#000" stroke="none"/>
<line x1="474.50" y1="203.00" x2="474.50" y2="216.00" stroke-width="2.1" />
<line x1="471.30" y1="203.00" x2="477.70" y2="203.00" stroke-width="1.9" />
<line x1="471.30" y1="216.00" x2="477.70" y2="216.00" stroke-width="1.9" />
<line x1="474.50" y1="246.20" x2="474.50" y2="262.50" stroke-width="2.1" />
<line x1="471.30" y1="246.20" x2="477.70" y2="246.20" stroke-width="1.9" />
<line x1="471.30" y1="262.50" x2="477.70" y2="262.50" stroke-width="1.9" />
<circle cx="474.50" cy="254.50" r="2.0" fill="#000" stroke="none"/>
<line x1="483.80" y1="172.00" x2="483.80" y2="195.00" stroke-width="2.1" />
<line x1="480.60" y1="172.00" x2="487.00" y2="172.00" stroke-width="1.9" />
<line x1="480.60" y1="181.00" x2="487.00" y2="181.00" stroke-width="1.9" />
<line x1="480.60" y1="195.00" x2="487.00" y2="195.00" stroke-width="1.9" />
</g>
</svg>
</body></html>
